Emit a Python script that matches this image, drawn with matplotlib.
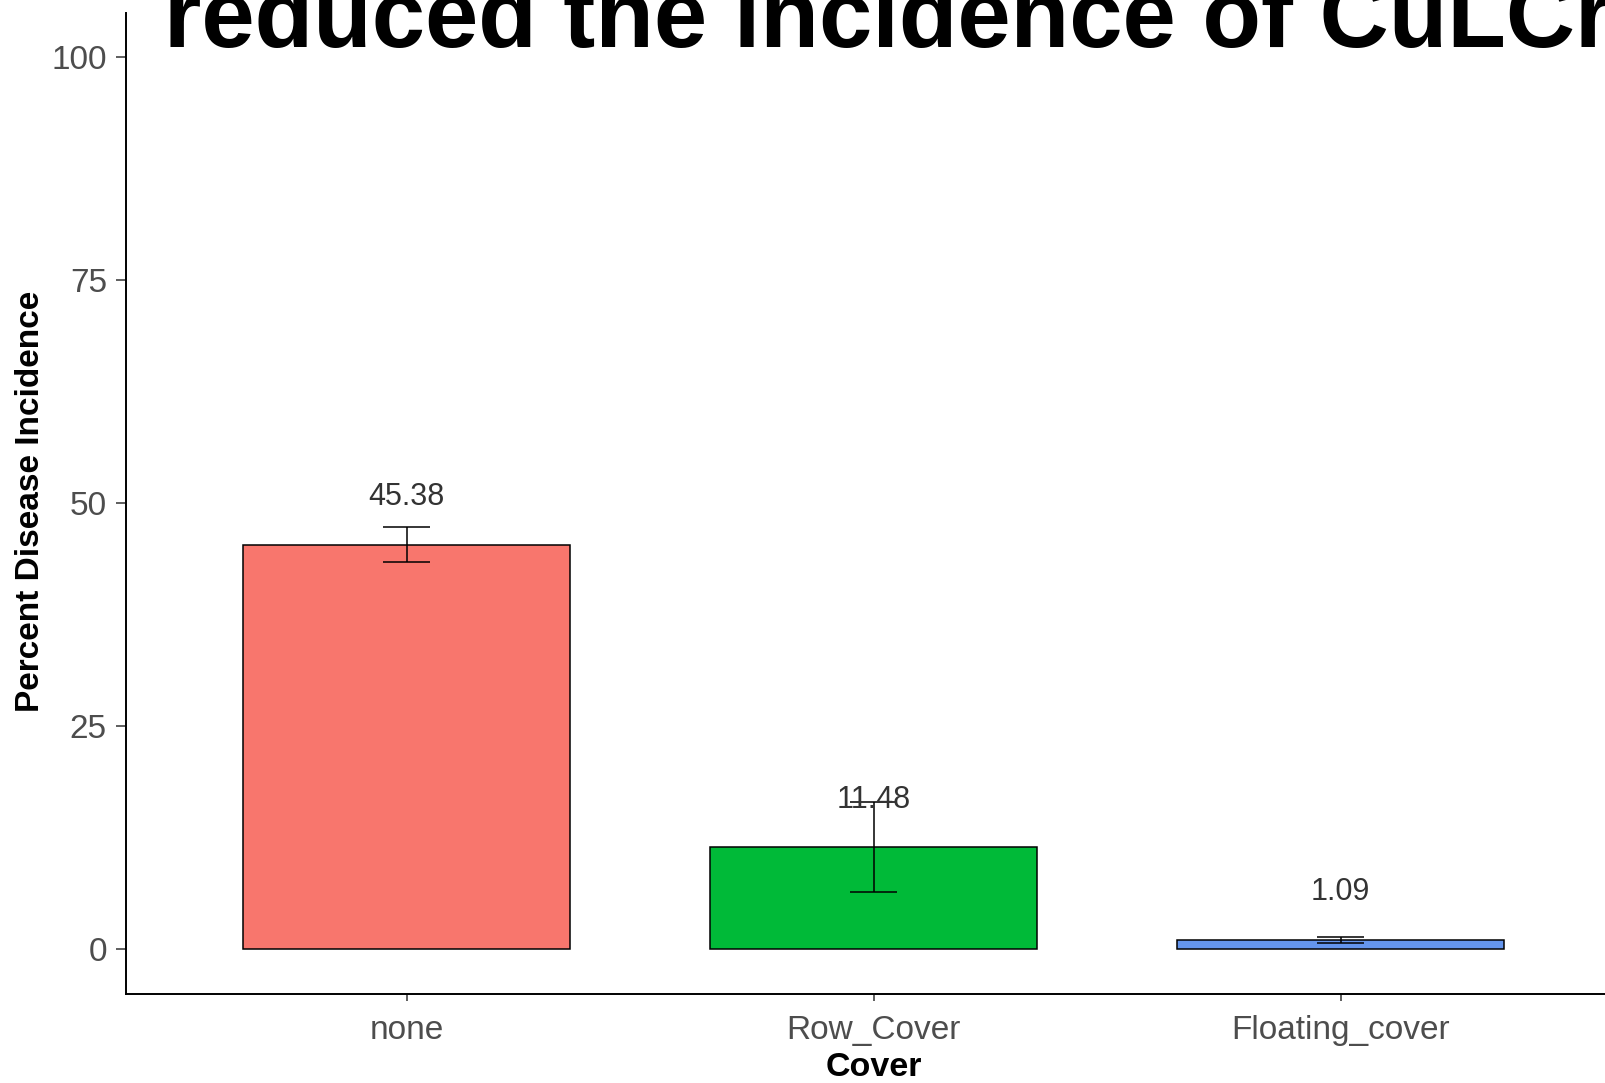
import matplotlib
matplotlib.use("Agg")
import matplotlib.pyplot as plt

plt.rcParams['font.family'] = ['Liberation Sans', 'DejaVu Sans']

# data
covers = ['none', 'Row_Cover', 'Floating_cover']
incidence = [45.38, 11.48, 1.09]
std_err = [1.95, 5.0, 0.33]
bar_colors = ['#F8766D', '#00BA38', '#6495ED']
y_ticks = [0, 25, 50, 75, 100]
title = 'reduced the incidence of CuLCrV'

W, H = 1606, 1083
fig = plt.figure(figsize=(W / 100, H / 100), dpi=100)

# axes spans past the right edge, like the cropped original
left, right = 126.4, 1620.8
top, bottom = 12.8, 994.0
ax = fig.add_axes([left / W, (H - bottom) / H, (right - left) / W, (bottom - top) / H])

x = list(range(1, len(covers) + 1))
ax.bar(x, incidence, width=0.7, color=bar_colors, edgecolor='black', linewidth=1.1, zorder=2)

# error bars (ggplot-style, cap width 0.1)
lo = [m - s for m, s in zip(incidence, std_err)]
hi = [m + s for m, s in zip(incidence, std_err)]
ax.vlines(x, lo, hi, color='black', linewidth=1.1, zorder=3)
ax.hlines(lo, [i - 0.05 for i in x], [i + 0.05 for i in x], color='black', linewidth=1.1, zorder=3)
ax.hlines(hi, [i - 0.05 for i in x], [i + 0.05 for i in x], color='black', linewidth=1.1, zorder=3)

for xi, v in zip(x, incidence):
    ax.text(xi, v + 5.3, f'{v:.2f}', ha='center', va='center', fontsize=22, color='#333333', zorder=4)

ax.set_xlim(0.4, 3.6)
ax.set_ylim(-5, 105)
ax.set_xticks(x)
ax.set_xticklabels(covers)
ax.set_yticks(y_ticks)

for side in ['top', 'right']:
    ax.spines[side].set_visible(False)
for side in ['left', 'bottom']:
    ax.spines[side].set_linewidth(1.4)
    ax.spines[side].set_color('black')

ax.tick_params(axis='x', length=5, width=1.1, pad=10, labelsize=24, labelcolor='#4D4D4D', color='#333333')
ax.tick_params(axis='y', length=7, width=1.1, pad=7, labelsize=24, labelcolor='#4D4D4D', color='#333333')

ax.set_xlabel('Cover', fontsize=24.5, fontweight='bold', va='center')
ax.xaxis.set_label_coords((874 - left) / (right - left), (bottom - 1068) / (bottom - top))
ax.set_ylabel('Percent Disease Incidence', fontsize=24, fontweight='bold', va='center')
ax.yaxis.set_label_coords((31 - left) / (right - left), (bottom - 501) / (bottom - top))

fig.text(164 / W, 1 - 47 / H, title, fontsize=69, fontweight='bold', ha='left', va='baseline')

fig.savefig('out.png', dpi=100)
